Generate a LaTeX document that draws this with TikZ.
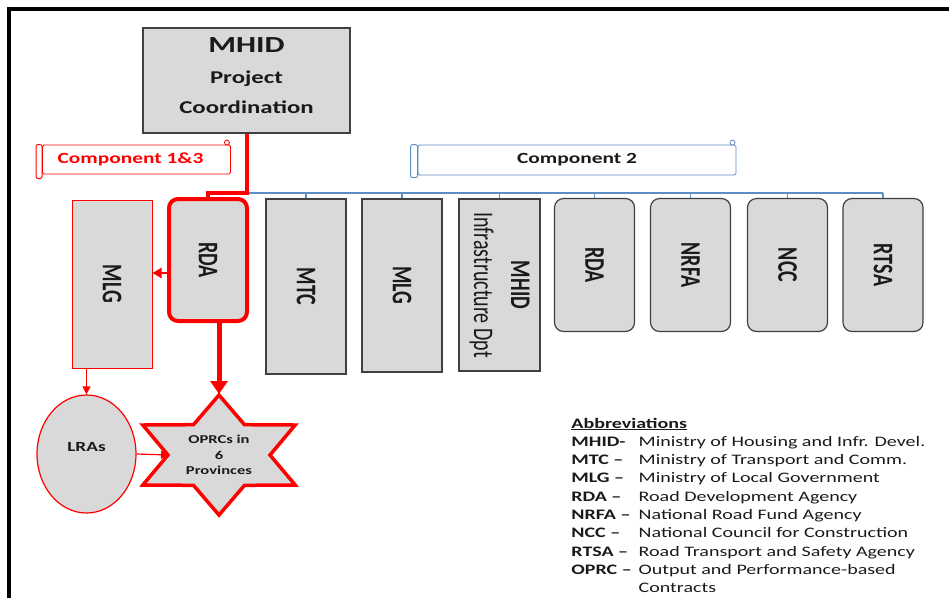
\documentclass[tikz,border=0pt]{standalone}
\usepackage{fontspec}
\setmainfont{Carlito}
\usepackage{xcolor}
\usetikzlibrary{arrows.meta,calc,positioning,shapes.geometric}
\definecolor{boxgray}{RGB}{217,217,217}
\definecolor{edgegray}{RGB}{64,64,64}
\definecolor{busblue}{RGB}{96,140,196}
\definecolor{txtblack}{RGB}{26,26,26}

\begin{document}
\begin{tikzpicture}[x=1pt,y=-1pt,>={Triangle[length=8pt,width=8pt]},semithick]
	\tikzstyle{stretch}=[inner sep=0pt, xscale=1.38, transform shape, text=txtblack]
	\tikzstyle{vstretch}=[inner sep=0pt, xscale=1.42, rotate=-90, transform shape, text=txtblack, font=\bfseries\fontsize{20}{26}\selectfont]
	\tikzstyle{grey box}=[draw=edgegray, fill=boxgray, line width=1.2pt, inner sep=0pt]
	\tikzstyle{agency}=[grey box, rounded corners=9pt, minimum width=80pt, minimum height=133pt]
	\tikzstyle{scroll}=[draw, fill=white, line width=0.9pt, inner sep=0pt, rounded corners=1.5pt]
	\tikzstyle{bus}=[draw=busblue, line width=1.1pt]
	\tikzstyle{redline}=[draw=red, line width=4pt]
	\useasboundingbox (0,0) rectangle (949,598);
	% frame
	\draw[line width=4pt] (9,598) -- (9,9) -- (949,9);

	% top box
	\node[grey box, minimum width=207pt, minimum height=105pt] (mhid) at (246.5,80.5) {};
	\node[stretch, align=center, font=\bfseries\fontsize{18}{30}\selectfont] (mhid-t) at ([yshift=5pt]mhid.center)
		{{\fontsize{23}{23}\selectfont MHID}\\[1pt]Project\\Coordination};

	% scrolls
	\node[scroll, draw=red, minimum width=188pt, minimum height=29pt] (comp13) at (136.5,159.5) {};
	\draw[red, line width=0.9pt, rounded corners=2pt] (comp13.north west) rectangle ++(-6,34);
	\draw[red, line width=0.8pt] ([xshift=-4pt,yshift=2pt]comp13.north east) circle (2.5pt);
	\node[stretch, text=red, font=\bfseries\fontsize{15.5}{17}\selectfont] (comp13-t) at ([xshift=-6pt]comp13.center) {Component 1\&3};
	\node[scroll, draw=busblue, minimum width=318pt, minimum height=30pt] (comp2) at (577,160) {};
	\draw[busblue, line width=0.9pt, rounded corners=2pt] (comp2.north west) rectangle ++(-7,33);
	\draw[busblue, line width=0.8pt] ([xshift=-4pt,yshift=2pt]comp2.north east) circle (2.5pt);
	\node[stretch, font=\bfseries\fontsize{15.5}{17}\selectfont] (comp2-t) at (comp2) {Component 2};

	% component 1 & 3
	\node[grey box, draw=red, line width=1pt, minimum width=80pt, minimum height=168pt] (mlg1) at (112,284) {};
	\node[vstretch] (mlg1-t) at (mlg1) {MLG};
	\node[grey box, draw=red, line width=4pt, rounded corners=9pt, minimum width=78pt, minimum height=122pt] (rda1) at (208,260) {};
	\node[vstretch] (rda1-t) at (rda1) {RDA};

	% component 2
	\node[grey box, minimum width=80pt, minimum height=175pt] (mtc) at (306,286.5) {};
	\node[vstretch] (mtc-t) at (mtc) {MTC};
	\node[grey box, minimum width=80pt, minimum height=173pt] (mlg2) at (402,285.5) {};
	\node[vstretch] (mlg2-t) at (mlg2) {MLG};
	\node[grey box, minimum width=81pt, minimum height=172pt] (infra) at (499.5,285) {};
	\node[vstretch, align=center] (infra-t) at (infra) {MHID\\\mdseries Infrastructure Dpt};
	\foreach \n/\x/\t in {rda2/594.5/RDA, nrfa/690.5/NRFA, ncc/787.5/NCC, rtsa/883/RTSA}{
		\node[agency] (\n) at (\x,265) {};
		\node[vstretch] (\n-t) at (\n) {\t};
	}

	% links
	\coordinate (bus) at (246.5,193);
	\draw[bus] (bus) -- (bus -| rtsa.north);
	\foreach \n in {mtc,mlg2,infra,rda2,nrfa,ncc,rtsa}
		\draw[bus] (bus -| \n.north) -- (\n.north);
	\draw[redline] (mhid.south) -- (bus) -| (rda1.north);

	% outputs
	\node[draw=red, fill=boxgray, ellipse, line width=1.2pt, minimum width=99pt, minimum height=118pt] (lras) at (86.5,454) {};
	\node[stretch, font=\bfseries\fontsize{14}{16}\selectfont] (lras-t) at ([yshift=7pt]lras.center) {LRAs};
	\coordinate (oprcc) at (219,455);
	\draw[red, line width=3.5pt, fill=boxgray] ($(oprcc)+(90:88pt and 60pt)$)
		foreach \a in {120,180,...,360}{ -- ($(oprcc)+(\a:51pt and 35pt)$) -- ($(oprcc)+(\a+30:88pt and 60pt)$) }
		-- ($(oprcc)+(60:51pt and 35pt)$) -- cycle;
	\node[stretch, align=center, font=\bfseries\fontsize{12}{15.5}\selectfont] (oprc) at (oprcc) {OPRCs in\\6\\Provinces};
	\coordinate (startop) at ($(oprcc)+(0,-61)$);
	\coordinate (starleft) at ($(oprcc)+(-50,0)$);

	\draw[red, line width=2pt, -{Triangle[length=9pt,width=10pt]}] ([yshift=-13pt]rda1.west) -- ([yshift=-13pt]rda1.west -| mlg1.east);
	\draw[red, line width=5pt, -{Triangle[length=13pt,width=17pt]}] (startop |- rda1.south) -- (startop);
	\draw[red, line width=1.2pt, ->] (lras.north |- mlg1.south) -- (lras.north);
	\draw[red, line width=1.2pt, ->] (lras.east) -- (starleft);

	% abbreviations
	\node[stretch, anchor=base west, font=\fontsize{14.5}{18.3}\selectfont] (abbr) at (571,428) {%
		\begin{tabular}[t]{@{}l@{\hspace{5pt}}l@{}}
		\multicolumn{2}{@{}l}{\underline{\textbf{Abbreviations}}}\\
		\textbf{MHID-} & Ministry of Housing and Infr. Devel.\\
		\textbf{MTC --} & Ministry of Transport and Comm.\\
		\textbf{MLG --} & Ministry of Local Government\\
		\textbf{RDA --} & Road Development Agency\\
		\textbf{NRFA --} & National Road Fund Agency\\
		\textbf{NCC --} & National Council for Construction\\
		\textbf{RTSA --} & Road Transport and Safety Agency\\
		\textbf{OPRC --} & Output and Performance-based\\
		 & Contracts
		\end{tabular}};
\end{tikzpicture}
\end{document}
